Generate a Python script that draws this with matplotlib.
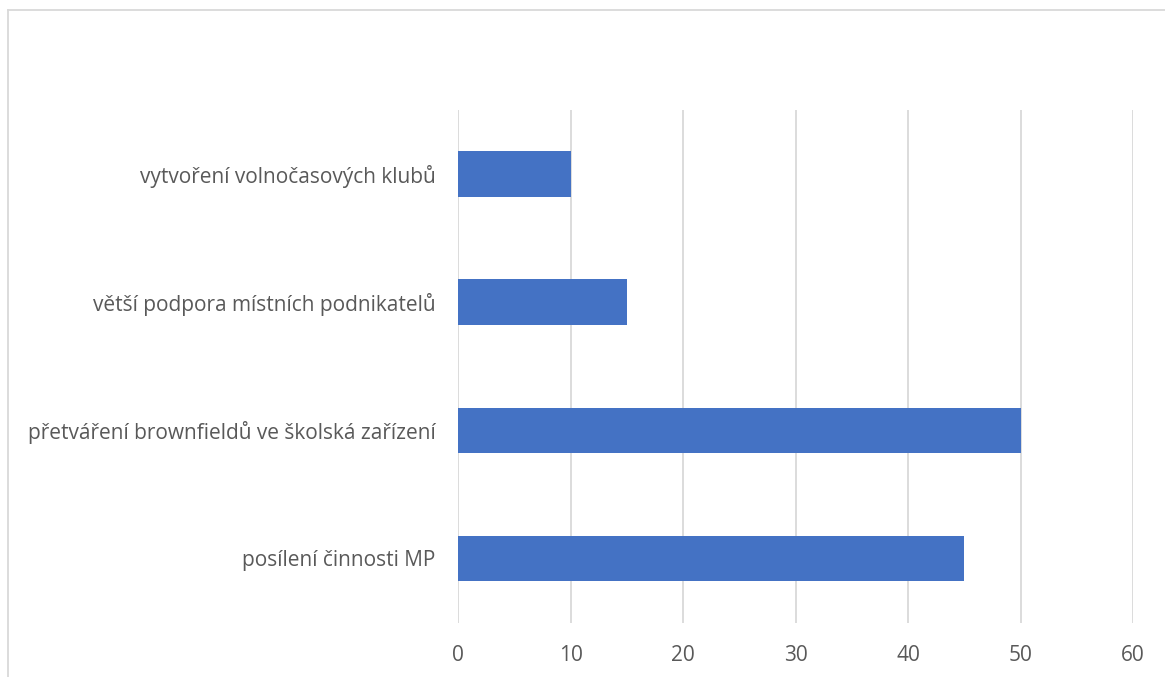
import matplotlib
matplotlib.use("Agg")
import matplotlib.pyplot as plt
from matplotlib.lines import Line2D

categories = [
    "posílení činnosti MP",
    "přetváření brownfieldů ve školská zařízení",
    "větší podpora místních podnikatelů",
    "vytvoření volnočasových klubů",
]
values = [45, 50, 15, 10]
xticks = [0, 10, 20, 30, 40, 50, 60]

plt.rcParams['font.family'] = ['Open Sans', 'DejaVu Sans']
W, H = 1165, 677
fig = plt.figure(figsize=(W / 100, H / 100), dpi=100)
ax = fig.add_axes([458.3 / W, 1 - 622.5 / H, (1133 - 458.3) / W, (622.5 - 110) / H])

ax.barh(range(len(categories)), values, height=0.355, color="#4472C4", zorder=3)
ax.set_ylim(-0.5, len(categories) - 0.5)
ax.set_xlim(0, 60)
ax.set_xticks(xticks)
ax.set_xticklabels([str(t) for t in xticks])
ax.set_yticks(range(len(categories)))
ax.set_yticklabels(categories)
ax.grid(axis="x", color="#D9D9D9", linewidth=1.3, zorder=0)
for s in ax.spines.values():
    s.set_visible(False)
ax.tick_params(axis="both", length=0, labelsize=15, colors="#595959")
ax.tick_params(axis="x", pad=16)
ax.tick_params(axis="y", pad=16.5)

# chart border
fig.add_artist(Line2D([8 / W, 1.0], [1 - 10 / H, 1 - 10 / H], transform=fig.transFigure, color="#D9D9D9", linewidth=1.3))
fig.add_artist(Line2D([8 / W, 8 / W], [0, 1 - 10 / H], transform=fig.transFigure, color="#D9D9D9", linewidth=1.3))

fig.savefig("out.png", dpi=100)
